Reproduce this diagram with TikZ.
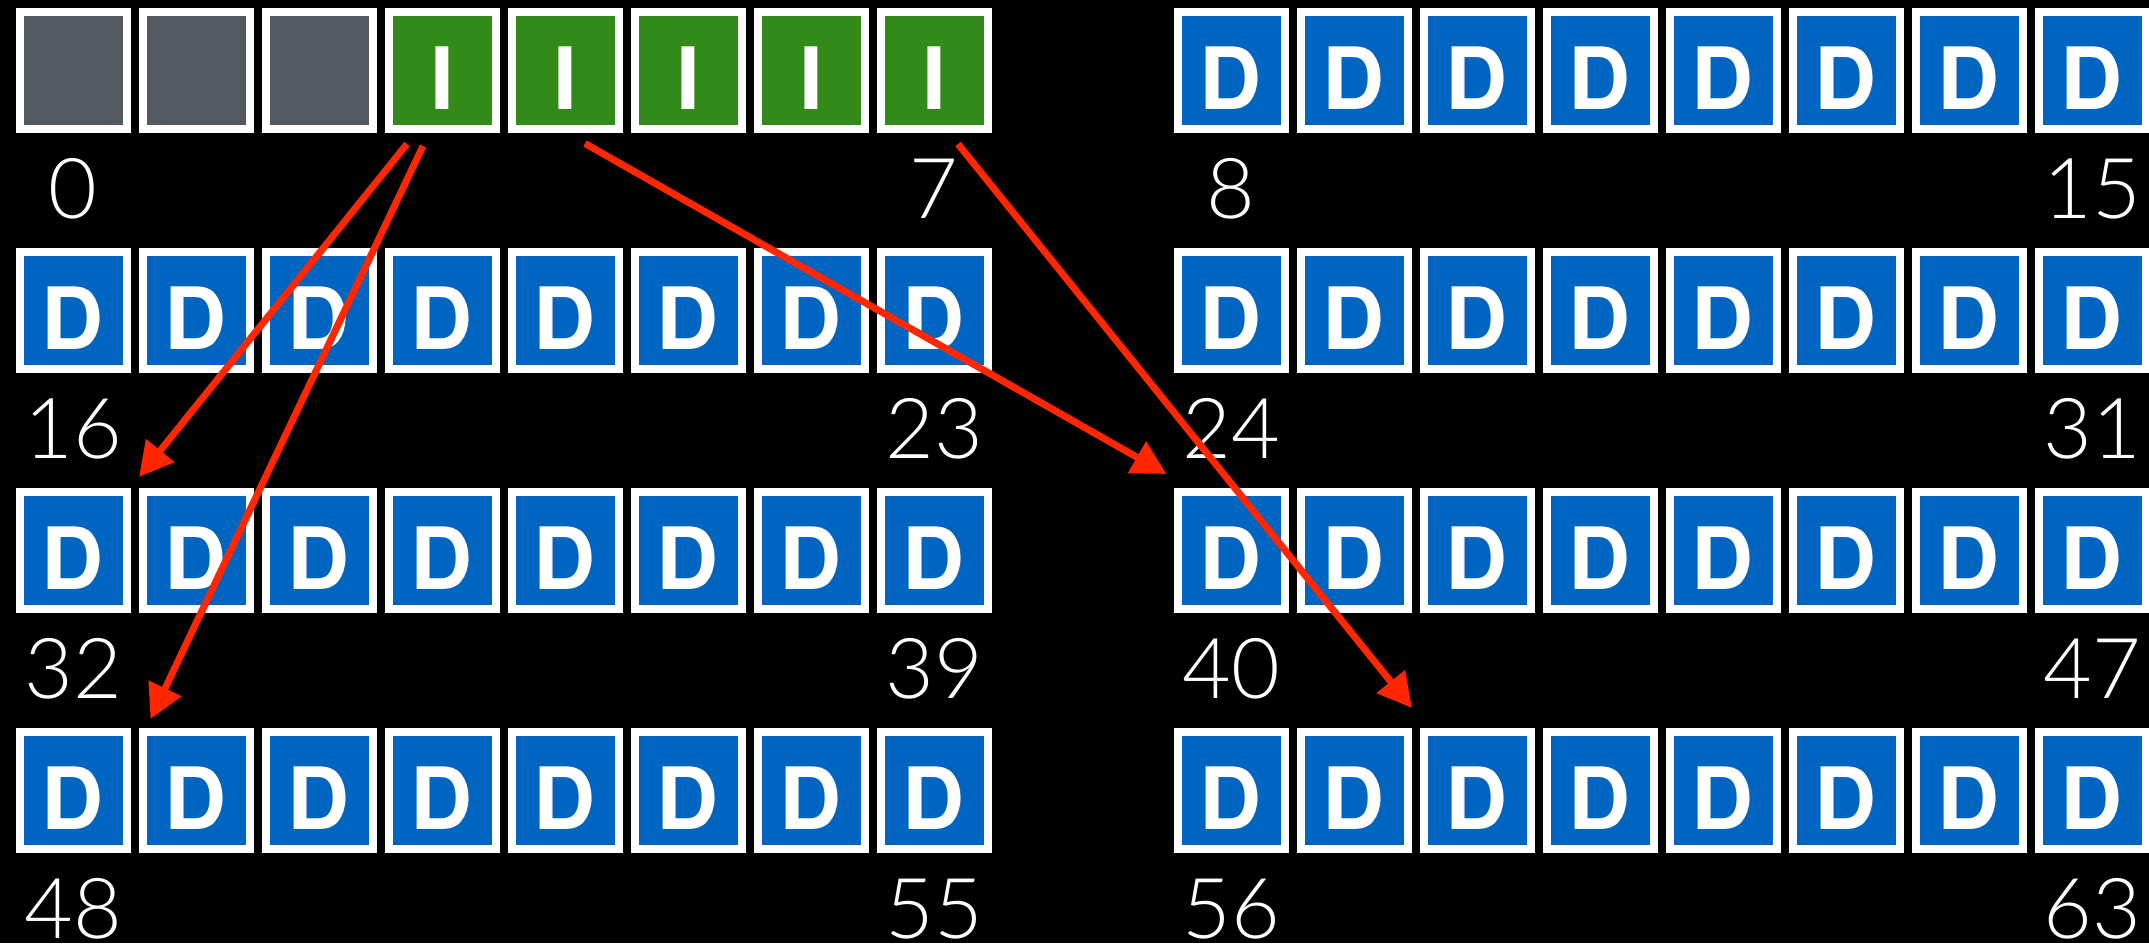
\documentclass[tikz,border=0pt]{standalone}
\usepackage{fontspec}
\setmainfont{TeX Gyre Heros}
\newfontfamily\lightnum{Lato Light}
\usetikzlibrary{arrows.meta}
\definecolor{cgray}{RGB}{85,89,97}
\definecolor{cgreen}{RGB}{50,138,25}
\definecolor{cblue}{RGB}{0,101,192}
\definecolor{cred}{RGB}{255,38,0}
\begin{document}
\begin{tikzpicture}[x=1pt,y=-1pt,
  cell/.style={draw=white,line width=8pt,minimum width=107pt,minimum height=117pt,inner sep=0pt,
    text=white,font=\fontsize{86}{86}\selectfont\bfseries,text height=78pt,text depth=0pt},
  freecell/.style={cell,fill=cgray},
  icell/.style={cell,fill=cgreen},
  dcell/.style={cell,fill=cblue},
  lab/.style={text=white,font=\lightnum\fontsize{84}{84}\selectfont,inner sep=0pt,text height=61pt,text depth=0pt,anchor=center},
  ptr/.style={draw=cred,line width=7pt,-{Triangle[length=34pt,width=35pt]}}
]
\fill[black] (0,0) rectangle (2149,943);
\useasboundingbox (0,0) rectangle (2149,943);
\foreach \r in {0,...,3}{
  \foreach \b/\bx in {0/15.5,1/1173.5}{
    \foreach \c in {0,...,7}{
      \pgfmathtruncatemacro{\idx}{\r*16+\b*8+\c}
      \pgfmathsetmacro{\cx}{\bx+\c*123+57.5}
      \pgfmathsetmacro{\cy}{70+240*\r}
      \ifnum\idx<3 \node[freecell] (b\idx) at (\cx,\cy) {};
      \else\ifnum\idx<8 \node[icell] (b\idx) at (\cx,\cy) {I};
      \else \node[dcell] (b\idx) at (\cx,\cy) {D};
      \fi\fi
    }
    \pgfmathtruncatemacro{\first}{\r*16+\b*8}
    \pgfmathtruncatemacro{\last}{\r*16+\b*8+7}
    \node[lab] (n\first) at ([yshift=-117.5pt]b\first.center) {\first};
    \node[lab] (n\last) at ([yshift=-117.5pt]b\last.center) {\last};
  }
}
\coordinate (s1) at (407,144);
\coordinate (t1) at (139,477);
\coordinate (s2) at (423,146);
\coordinate (t2) at (150.5,719);
\coordinate (s3) at (585,143.5);
\coordinate (t3) at (1166.5,474);
\coordinate (s4) at (958,144);
\coordinate (t4) at (1412,708);
\draw[ptr] (s1) -- (t1);
\draw[ptr] (s2) -- (t2);
\draw[ptr] (s3) -- (t3);
\draw[ptr] (s4) -- (t4);
\end{tikzpicture}
\end{document}
